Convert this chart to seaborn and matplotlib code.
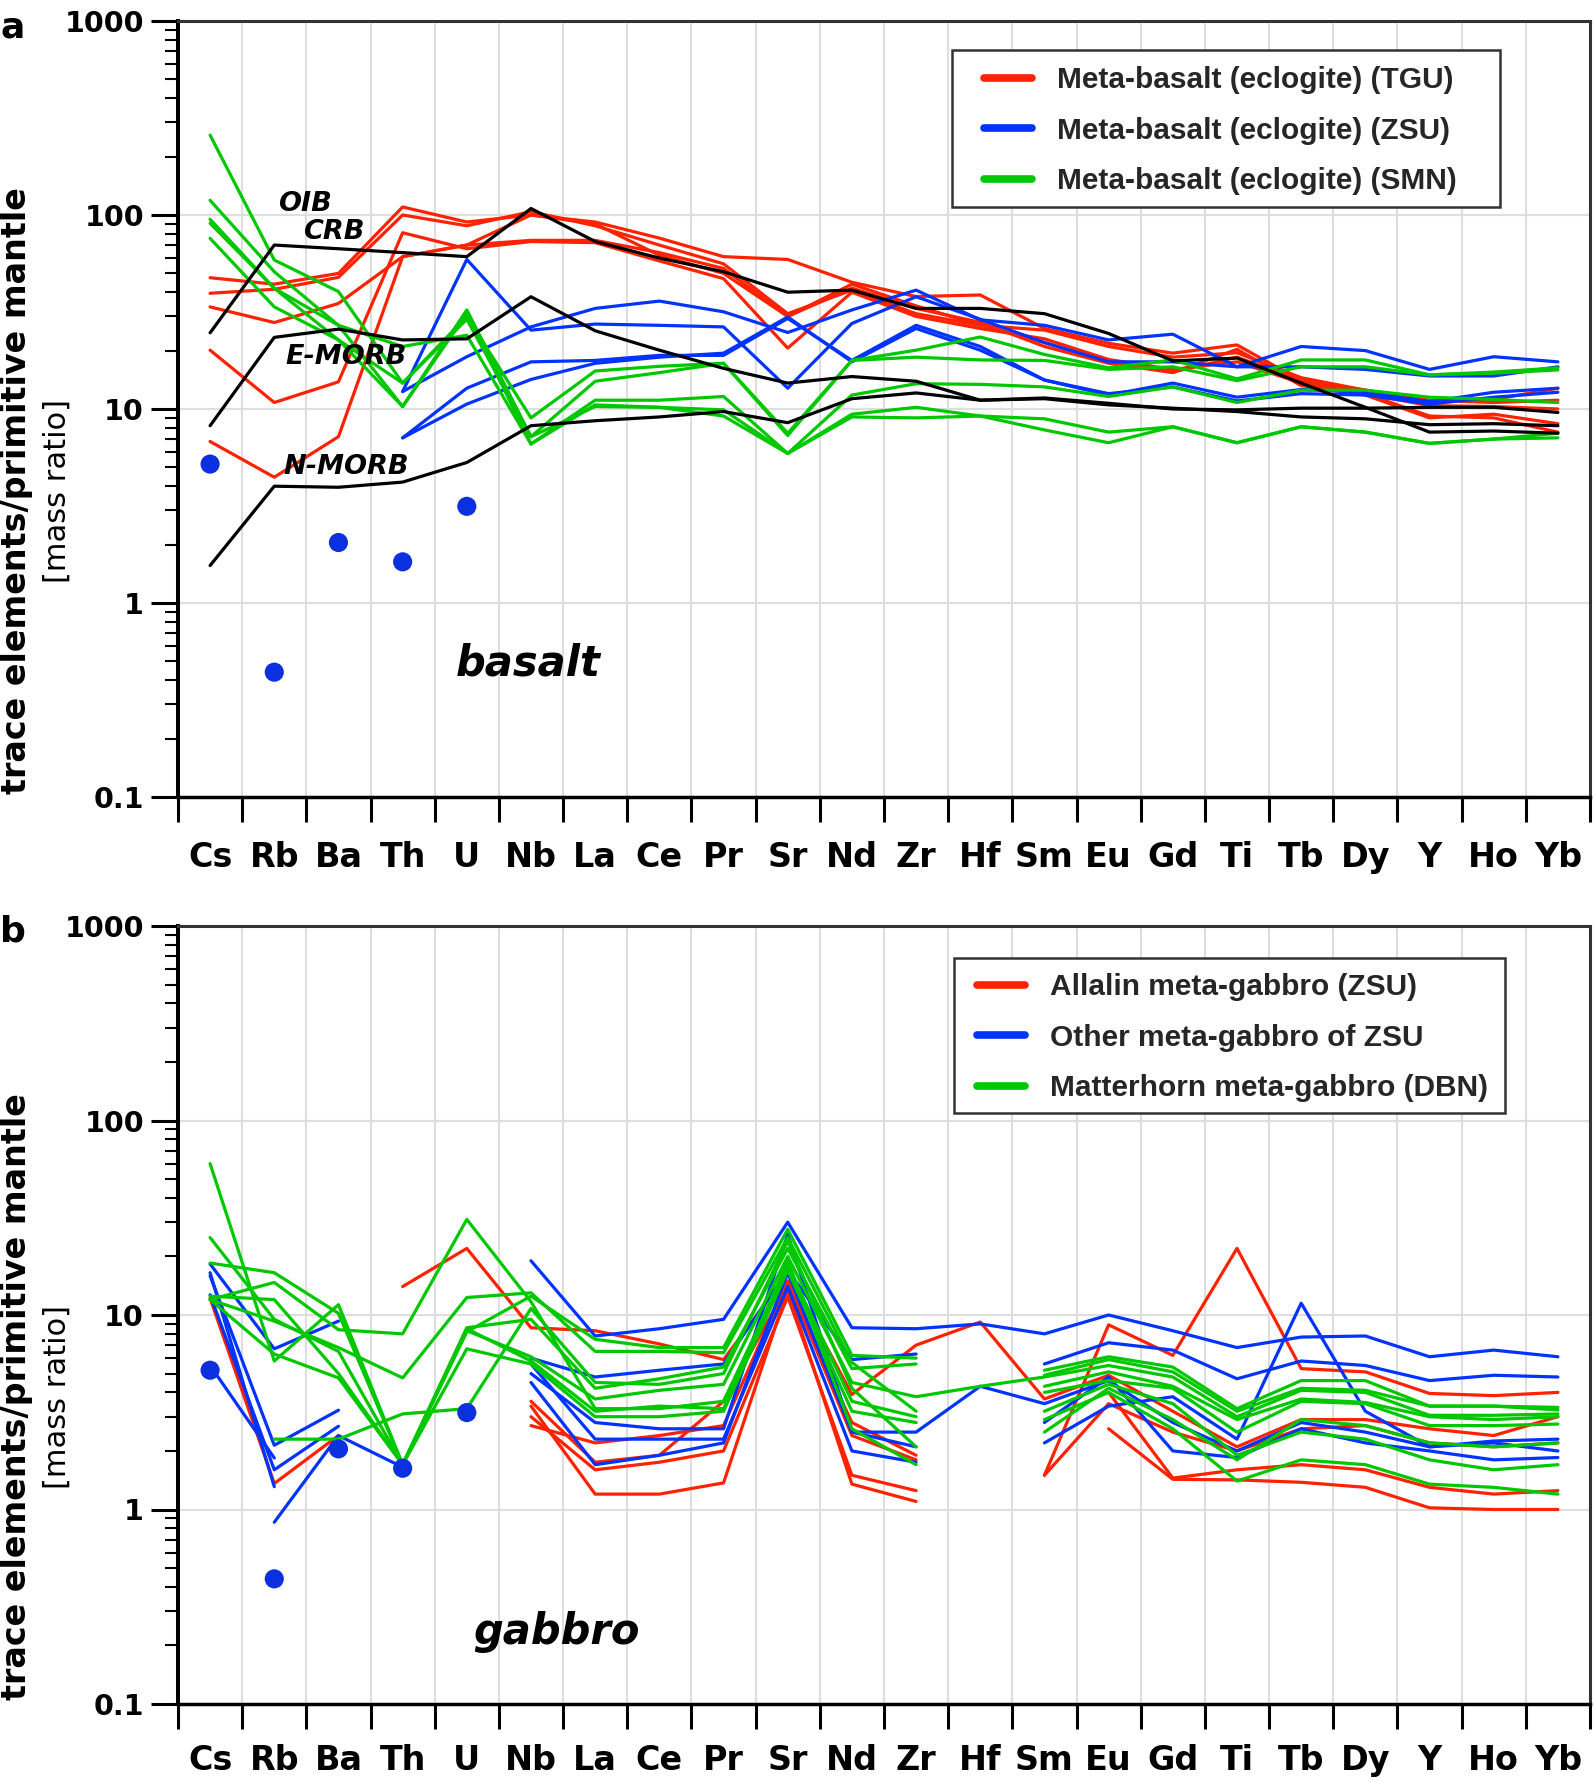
import numpy as np
import pandas as pd
import matplotlib
matplotlib.use("Agg")
import matplotlib.pyplot as plt
import seaborn as sns
from matplotlib.lines import Line2D
from matplotlib.patches import Rectangle
from matplotlib.ticker import FixedLocator, NullFormatter, LogLocator

sns.set_theme(style="white")
plt.rcParams['font.family'] = ['DejaVu Sans']

nan = np.nan
elements = ["Cs", "Rb", "Ba", "Th", "U", "Nb", "La", "Ce", "Pr", "Sr", "Nd",
            "Zr", "Hf", "Sm", "Eu", "Gd", "Ti", "Tb", "Dy", "Y", "Ho", "Yb"]
ytick_vals = [0.1, 1, 10, 100, 1000]
ytick_labels = ["0.1", "1", "10", "100", "1000"]

# ---------------- panel a: basalt ----------------
basalt_tgu = [
    [47.5, 44.0, 50.0, 110, 92, 100, 92, 76, 61, 59, 45, 38, 38.7, 26, 21.8, 19.4, 21.4, 14.0, 12.5, 11.1, 10.8, 11.1],
    [39.5, 41.4, 47.7, 100, 88, 104, 88, 70, 56, 31, 41, 31, 27, 25.5, 21.0, 18.5, 19.5, 14.5, 12.5, 11.0, 11.2, 12.8],
    [33.6, 27.9, 35.0, 61, 70, 74, 74, 64, 53, 30, 42, 33, 28, 21, 17.2, 15.4, 20.3, 13.2, 11.8, 9.0, 9.4, 8.4],
    [20.1, 10.8, 13.8, 81, 67, 73, 72, 58, 47, 20.6, 40, 30, 26, 23, 18, 16, 17.5, 13.6, 12.0, 10.4, 10.3, 10.0],
    [6.8, 4.45, 7.2, 61, 70, 100, 90, 62, 50, 30, 44, 34, 27, 22, 17.5, 15.5, 18.5, 14.0, 12.0, 9.2, 9.0, 7.6],
]
basalt_zsu = [
    [nan, nan, nan, 12.3, 59, 25.5, 27.4, 27, 26.5, 12.8, 27.6, 37.9, 29, 22, 17.5, 17.5, 16.5, 16.5, 16, 14.8, 14.8, 16.5],
    [nan, nan, nan, 12.3, 18.6, 26.5, 33, 36, 31.7, 24.8, 32.4, 41, 28.8, 27, 22.7, 24.3, 16.5, 21, 20, 16, 18.6, 17.5],
    [nan, nan, nan, 7.1, 12.8, 17.5, 17.8, 18.9, 18.9, 29.3, 17.8, 27, 21, 14.1, 11.8, 13.6, 11.5, 12.6, 12.2, 10.9, 12.2, 12.8],
    [nan, nan, nan, 7.1, 10.6, 14.2, 17.2, 18.5, 19.4, 29.8, 17.5, 26, 20.1, 14.1, 12.0, 13.0, 11.0, 12.0, 11.8, 10.6, 11.5, 12.2],
]
basalt_smn = [
    [258, 58.6, 40.3, 13.6, 30, 9.0, 15.7, 16.6, 17.2, 7.5, 17.8, 20.1, 23.5, 19.1, 16.3, 17.9, 14.3, 17.9, 17.9, 15.0, 15.5, 16.3],
    [119, 51, 27, 10.3, 32.4, 7.2, 13.9, 15.4, 17.2, 7.3, 17.8, 18.5, 17.9, 17.8, 16.0, 16.5, 14.0, 16.5, 16.5, 15.0, 15.3, 15.9],
    [95, 41.9, 27, 21, 24, 6.6, 11.1, 11.1, 11.6, 5.9, 11.8, 13.5, 13.4, 13.0, 11.6, 13.0, 10.8, 12.5, 12.5, 11.5, 11.2, 10.8],
    [90.6, 41.9, 22.7, 13.6, 29, 7.2, 10.3, 10.2, 9.9, 5.9, 9.4, 10.2, 9.2, 8.9, 7.6, 8.1, 6.7, 8.1, 7.6, 6.65, 7.0, 7.1],
    [75.8, 33.6, 22.7, 10.3, 31, 6.6, 10.5, 10.2, 9.2, 5.9, 9.1, 9.0, 9.2, 7.8, 6.7, 8.1, 6.7, 8.1, 7.6, 6.65, 7.0, 7.5],
]
ref_oib = [24.7, 70, 67, 64, 61, 108, 73, 60, 51, 40, 41, 33, 33, 31, 24.5, 17.7, 18.3, 13.6, 10.2, 7.6, 7.7, 7.5]
ref_emorb = [8.2, 23.4, 25.8, 22.7, 23, 37.9, 25.3, 20.1, 16.2, 13.6, 14.7, 13.9, 11.1, 11.3, 10.5, 10.1, 9.7, 9.1, 8.9, 8.3, 8.4, 8.2]
ref_nmorb = [1.56, 4.0, 3.95, 4.2, 5.3, 8.2, 8.7, 9.1, 9.7, 8.5, 11.3, 12.1, 11.1, 11.4, 10.7, 10.0, 9.9, 10.1, 10.1, 10.2, 10.2, 9.6]
ref_lines = [ref_oib, ref_emorb, ref_nmorb]

dot_elements = ["Cs", "Rb", "Ba", "Th", "U"]
dot_values = [5.2, 0.44, 2.05, 1.63, 3.15]

# ---------------- panel b: gabbro ----------------
gabbro_allalin = [
    [12.2, 1.36, 2.4, nan, nan, nan, nan, nan, nan, nan, nan, nan, nan, nan, nan, nan, nan, nan, nan, nan, nan, nan],
    [nan, nan, nan, 14.0, 22.0, 8.6, 8.3, 7.1, 5.9, 16.3, 3.9, 7.0, 9.2, 3.7, 4.9, 3.2, 2.1, 2.9, 2.9, 2.6, 2.4, 3.0],
    [nan, nan, nan, nan, nan, 3.6, 1.75, 1.9, 3.6, 14.2, 2.8, 1.9, nan, 1.5, 8.9, 6.2, 22.0, 5.3, 5.1, 3.95, 3.85, 4.0],
    [nan, nan, nan, nan, nan, 3.0, 1.6, 1.75, 2.0, 12.4, 1.5, 1.25, nan, 1.5, 3.5, 2.5, 2.0, 2.6, 2.7, 2.2, 2.1, 2.2],
    [nan, nan, nan, nan, nan, 3.4, 1.2, 1.2, 1.37, 13.5, 1.35, 1.1, nan, nan, 2.6, 1.43, 1.42, 1.38, 1.3, 1.02, 1.0, 1.0],
    [nan, nan, nan, nan, nan, 2.7, 2.2, 2.4, 2.7, 15.0, 2.4, 1.8, nan, nan, 4.0, 1.45, 1.6, 1.7, 1.6, 1.3, 1.2, 1.25],
]
gabbro_zsu_other = [
    [18.3, 6.7, 9.3, nan, nan, 19.0, 7.8, 8.5, 9.5, 30, 8.6, 8.5, 9.0, 8.0, 10.0, 8.3, 6.8, 7.7, 7.8, 6.1, 6.6, 6.1],
    [15.9, 2.14, 3.24, nan, nan, 6.0, 4.8, 5.2, 5.6, 17, 5.9, 6.3, nan, 5.6, 7.2, 6.6, 4.7, 5.8, 5.5, 4.6, 4.9, 4.8],
    [12.7, 1.6, 2.68, nan, nan, 5.0, 2.8, 2.6, 2.6, 26, 2.5, 2.1, nan, 2.2, 3.4, 3.8, 2.3, 11.5, 3.2, 2.1, 2.25, 2.3],
    [16.5, 1.31, nan, nan, nan, 5.6, 2.3, 2.3, 2.3, 14, 2.0, 1.75, nan, 2.8, 4.8, 2.0, 1.85, 2.6, 2.2, 2.0, 1.8, 1.85],
    [5.5, 1.84, nan, nan, nan, 4.5, 1.7, 1.9, 2.2, 16.5, 2.5, 2.5, 4.3, 3.5, 4.6, 2.8, 2.0, 2.8, 2.5, 2.1, 2.2, 2.0],
    [nan, 0.86, 2.4, 1.65, nan, nan, nan, nan, nan, nan, nan, nan, nan, nan, nan, nan, nan, nan, nan, nan, nan, nan],
]
gabbro_matterhorn = [
    [60, 5.8, 11.3, 1.7, 8.6, 9.5, 4.2, 4.7, 5.4, 22, 5.3, 5.6, nan, 4.9, 5.9, 5.1, 3.2, 4.2, 4.1, 3.4, 3.4, 3.35],
    [25, 9.5, 6.5, 1.7, 8.2, 12.5, 7.5, 6.8, 6.8, 27.6, 6.2, 6.0, nan, 5.2, 6.1, 5.4, 3.3, 4.6, 4.6, 3.4, 3.4, 3.25],
    [18.5, 16.5, 10.2, 1.7, 8.3, 6.1, 3.7, 4.1, 4.4, 20, 4.5, 3.8, 4.3, 4.8, 5.5, 4.8, 3.0, 4.1, 4.0, 3.05, 3.05, 3.1],
    [12.0, 9.3, 6.8, 4.75, 12.3, 13.0, 6.5, 6.5, 6.4, 25, 5.7, 3.2, nan, 4.3, 5.1, 4.3, 2.9, 3.7, 3.55, 3.0, 2.9, 3.0],
    [12.0, 14.7, 8.4, 8.0, 31, 11.7, 3.3, 3.3, 3.6, 18, 3.6, 3.0, nan, 4.0, 4.6, 4.2, 2.5, 3.6, 3.5, 2.7, 2.7, 2.75],
    [nan, 2.3, 2.3, 3.1, 3.3, 10.8, 4.5, 4.4, 5.0, 24, 4.2, 2.1, nan, 2.5, 4.2, 2.9, 1.8, 2.9, 2.7, 2.2, 2.1, 2.2],
    [12.5, 12.0, 5.0, 1.7, 6.7, 5.6, 3.0, 3.0, 3.2, 17, 3.2, 2.8, nan, 2.9, 4.0, 2.6, 1.4, 1.8, 1.7, 1.35, 1.3, 1.2],
    [12.0, 6.3, 4.75, 1.7, 8.5, 5.8, 3.2, 3.4, 3.3, 19, 2.6, 1.7, nan, 3.2, 4.4, 3.5, 1.9, 2.5, 2.3, 1.8, 1.6, 1.7],
]

legend_a = ["Meta-basalt (eclogite) (TGU)", "Meta-basalt (eclogite) (ZSU)", "Meta-basalt (eclogite) (SMN)"]
legend_b = ["Allalin meta-gabbro (ZSU)", "Other meta-gabbro of ZSU", "Matterhorn meta-gabbro (DBN)"]

RED = "#ff2200"
BLUE = "#0033ff"
GREEN = "#00c800"
DOT = "#0a30e0"
LW = 2.3

W, H = 1594, 1782


def segments_frame(lines):
    rows = []
    for k, vals in enumerate(lines):
        seg = 0
        gap = True
        for i, v in enumerate(vals):
            if v is None or np.isnan(v):
                gap = True
                continue
            if gap:
                seg += 1
                gap = False
            rows.append({"pos": i, "value": v, "unit": f"{k}-{seg}"})
    return pd.DataFrame(rows)


def draw_group(ax, lines, color, z):
    df = segments_frame(lines)
    sns.lineplot(data=df, x="pos", y="value", units="unit", estimator=None,
                 color=color, lw=LW, ax=ax, legend=False, sort=False, zorder=z)


def style_axes(ax, xpad):
    ax.set_yscale("log")
    ax.set_ylim(0.1, 1000)
    ax.set_xlim(-0.5, len(elements) - 0.5)
    ax.set_facecolor("white")
    ax.set_axisbelow(True)
    ax.yaxis.set_major_locator(FixedLocator(ytick_vals))
    ax.set_yticklabels(ytick_labels, fontsize=20.5, fontweight="bold")
    ax.yaxis.set_minor_locator(LogLocator(base=10, subs=np.arange(2, 10)))
    ax.yaxis.set_minor_formatter(NullFormatter())
    ax.set_xticks(range(len(elements)))
    ax.set_xticklabels(elements, fontsize=24, fontweight="bold")
    ax.xaxis.set_minor_locator(FixedLocator(np.arange(-0.5, len(elements), 1.0)))
    ax.tick_params(axis="x", which="major", length=0, pad=xpad)
    ax.tick_params(axis="x", which="minor", length=18, width=2.2, direction="out", color="black", bottom=True)
    ax.tick_params(axis="y", which="major", length=19.5, width=2.2, direction="out", color="black", pad=5, left=True)
    ax.tick_params(axis="y", which="minor", length=9.5, width=1.5, direction="out", color="black", left=True)
    ax.grid(False)
    ax.xaxis.grid(True, which="minor", color="#dedede", lw=1.5)
    ax.yaxis.grid(True, which="major", color="#dedede", lw=1.5)
    ax.set_xlabel("")
    ax.set_ylabel("")
    for side in ["left", "bottom"]:
        ax.spines[side].set_color("black")
    ax.spines["left"].set_linewidth(2.9)
    ax.spines["bottom"].set_linewidth(2.5)
    for side in ["top", "right"]:
        ax.spines[side].set_color("#333333")
        ax.spines[side].set_linewidth(2.2)
    for lab in ax.get_xticklabels() + ax.get_yticklabels():
        lab.set_color("black")


def add_legend(ax, labels, box_px, anchor_px):
    x0, y0, x1, y1 = box_px
    rect = Rectangle((x0 / W, 1 - y1 / H), (x1 - x0) / W, (y1 - y0) / H,
                     transform=ax.figure.transFigure, facecolor="white",
                     edgecolor="#333333", lw=1.8, zorder=8, clip_on=False)
    ax.add_patch(rect)
    handles = [Line2D([], [], color=c, lw=5.5) for c in (RED, BLUE, GREEN)]
    leg = ax.legend(handles, labels, loc="upper left",
                    bbox_to_anchor=(anchor_px[0] / W, 1 - anchor_px[1] / H),
                    bbox_transform=ax.figure.transFigure, frameon=False,
                    prop={"family": ["Liberation Sans", "DejaVu Sans"], "weight": "bold", "size": 21.5},
                    handlelength=1.6, handletextpad=0.84, labelspacing=0.76, borderpad=0.0,
                    borderaxespad=0.0)
    leg.set_zorder(9)
    return leg


fig = plt.figure(figsize=(W / 100, H / 100), dpi=100)
fig.patch.set_facecolor("white")
axa = fig.add_axes([178 / W, 1 - 797 / H, 1412 / W, 776 / H])
axb = fig.add_axes([178 / W, 1 - 1704 / H, 1412 / W, 778 / H])

# panel a
style_axes(axa, 32)
draw_group(axa, basalt_tgu, RED, 3)
draw_group(axa, basalt_zsu, BLUE, 3)
draw_group(axa, basalt_smn, GREEN, 3)
draw_group(axa, ref_lines, "black", 4)
sns.scatterplot(x=[elements.index(e) for e in dot_elements], y=dot_values, color=DOT,
                s=190, edgecolor="none", ax=axa, zorder=6, legend=False)
style_axes(axa, 32)
for txt, xx, yy in [("OIB", 1.48, 114), ("CRB", 1.93, 81.6), ("E-MORB", 2.12, 18.5), ("N-MORB", 2.12, 5.02)]:
    axa.text(xx, yy, txt, ha="center", va="center", fontsize=19.5, fontweight="bold",
             fontstyle="italic", color="black", zorder=7)
axa.text(4.95, 0.485, "basalt", ha="center", va="center", fontsize=30, fontweight="bold",
         fontstyle="italic", color="black")
add_legend(axa, legend_a, (952, 50, 1500, 207), (984, 66))

# panel b
style_axes(axb, 29)
draw_group(axb, gabbro_allalin, RED, 3)
draw_group(axb, gabbro_zsu_other, BLUE, 3)
draw_group(axb, gabbro_matterhorn, GREEN, 3)
sns.scatterplot(x=[elements.index(e) for e in dot_elements], y=dot_values, color=DOT,
                s=190, edgecolor="none", ax=axb, zorder=6, legend=False)
style_axes(axb, 29)
axb.text(5.4, 0.234, "gabbro", ha="center", va="center", fontsize=30, fontweight="bold",
         fontstyle="italic", color="black")
add_legend(axb, legend_b, (954, 958, 1505, 1113), (977, 973))

# y labels and panel letters
for ycen in (491, 1397):
    fig.text(17 / W, 1 - ycen / H, "trace elements/primitive mantle", rotation=90,
             ha="center", va="center", fontsize=24, fontweight="bold", color="black")
    fig.text(57 / W, 1 - ycen / H, "[mass ratio]", rotation=90,
             ha="center", va="center", fontsize=22, color="black")
fig.text(13 / W, 1 - 27 / H, "a", ha="center", va="center", fontsize=26, fontweight="bold", color="black")
fig.text(13 / W, 1 - 932 / H, "b", ha="center", va="center", fontsize=26, fontweight="bold", color="black")

fig.savefig("out.png", dpi=100, facecolor="white")
